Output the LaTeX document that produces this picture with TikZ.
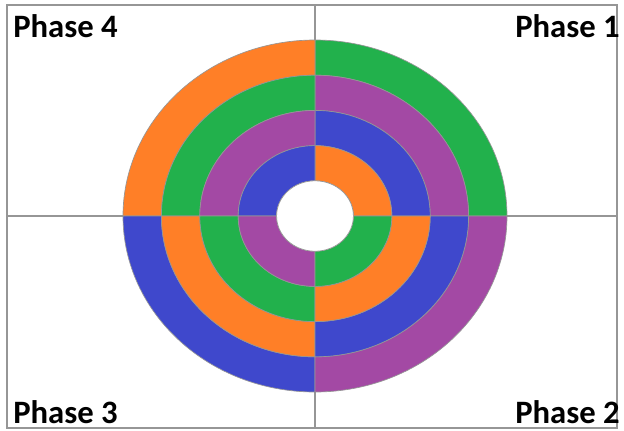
\documentclass[tikz,border=0pt]{standalone}
\usepackage{fontspec}
\setmainfont{Carlito}
\definecolor{phgreen}{RGB}{34, 177, 76}
\definecolor{phpurple}{RGB}{163, 73, 164}
\definecolor{phblue}{RGB}{63, 72, 204}
\definecolor{phorange}{RGB}{255, 127, 39}
\definecolor{phgray}{RGB}{150, 150, 150}

\begin{document}
\begin{tikzpicture}[
    x=0.75pt, y=0.75pt,
    frameline/.style={draw=phgray, line width=1.1pt},
    segline/.style={draw=phgray, line width=0.5pt},
    phaselbl/.style={font=\bfseries\fontsize{24.5}{28}\selectfont, inner sep=0pt}
]

\useasboundingbox (-315,-214) rectangle (309,216);

% === Macro: ring segment (quarter of an elliptic annulus) ===
% #1=start angle, #2=inner fraction, #3=outer fraction, #4=colour
\newcommand{\ringseg}[4]{%
    \pgfmathsetmacro{\rxo}{#3*192}%
    \pgfmathsetmacro{\ryo}{#3*176}%
    \pgfmathsetmacro{\rxi}{#2*192}%
    \pgfmathsetmacro{\ryi}{#2*176}%
    \filldraw[fill=#4, segline] (#1:\rxo\space and \ryo)
        arc[start angle=#1, end angle=#1+90, x radius=\rxo, y radius=\ryo]
        -- ({#1+90}:\rxi\space and \ryi)
        arc[start angle=#1+90, end angle=#1, x radius=\rxi, y radius=\ryi] -- cycle;
}

% === Frame and cross ===
\coordinate (fnw) at (-308,211);
\coordinate (fse) at (302,-212);
\coordinate (ftop) at (0,211);
\coordinate (fbot) at (0,-212);
\coordinate (fleft) at (-308,0);
\coordinate (fright) at (302,0);
\draw[frameline] (fnw) rectangle (fse);
\draw[frameline] (ftop) -- (fbot);
\draw[frameline] (fleft) -- (fright);

% === Phase 1 quadrant (top right) ===
\ringseg{0}{0.8}{1.0}{phgreen}
\ringseg{0}{0.6}{0.8}{phpurple}
\ringseg{0}{0.4}{0.6}{phblue}
\ringseg{0}{0.2}{0.4}{phorange}

% === Phase 4 quadrant (top left) ===
\ringseg{90}{0.8}{1.0}{phorange}
\ringseg{90}{0.6}{0.8}{phgreen}
\ringseg{90}{0.4}{0.6}{phpurple}
\ringseg{90}{0.2}{0.4}{phblue}

% === Phase 3 quadrant (bottom left) ===
\ringseg{180}{0.8}{1.0}{phblue}
\ringseg{180}{0.6}{0.8}{phorange}
\ringseg{180}{0.4}{0.6}{phgreen}
\ringseg{180}{0.2}{0.4}{phpurple}

% === Phase 2 quadrant (bottom right) ===
\ringseg{270}{0.8}{1.0}{phpurple}
\ringseg{270}{0.6}{0.8}{phblue}
\ringseg{270}{0.4}{0.6}{phorange}
\ringseg{270}{0.2}{0.4}{phgreen}

% === Hole ===
\filldraw[fill=white, segline] (0,0) ellipse [x radius=38.4, y radius=35.2];

% === Labels ===
\node[phaselbl, anchor=base west] (ph4) at (-302,179) {Phase 4};
\node[phaselbl, anchor=base east] (ph1) at (305,179) {Phase 1};
\node[phaselbl, anchor=base west] (ph3) at (-302,-207) {Phase 3};
\node[phaselbl, anchor=base east] (ph2) at (305,-207) {Phase 2};

\end{tikzpicture}
\end{document}
